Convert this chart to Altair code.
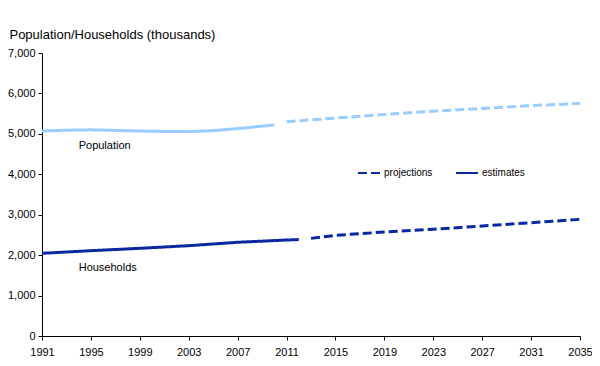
import altair as alt
import pandas as pd

# Population (thousands)
pop_est_years = [1991, 1993, 1995, 1997, 1999, 2001, 2003, 2005, 2007, 2009, 2010]
pop_est_vals = [5070, 5090, 5100, 5085, 5070, 5060, 5055, 5080, 5130, 5190, 5220]
pop_proj_years = [2011, 2015, 2019, 2023, 2027, 2031, 2035]
pop_proj_vals = [5300, 5390, 5480, 5560, 5630, 5700, 5750]

# Households (thousands)
hh_est_years = [1991, 1995, 1999, 2003, 2007, 2011, 2012]
hh_est_vals = [2045, 2110, 2169, 2234, 2318, 2374, 2385]
hh_proj_years = [2013, 2015, 2019, 2023, 2027, 2031, 2035]
hh_proj_vals = [2415, 2490, 2572, 2639, 2721, 2802, 2886]

series_names = ["Population", "Households"]
series_colors = ["#99ccff", "#0a28a0"]
type_names = ["projections", "estimates"]

label_years = [1994, 1994]
label_vals = [4700, 1680]

rows = []
for yrs, vals, s, t in [
    (pop_est_years, pop_est_vals, "Population", "estimates"),
    (pop_proj_years, pop_proj_vals, "Population", "projections"),
    (hh_est_years, hh_est_vals, "Households", "estimates"),
    (hh_proj_years, hh_proj_vals, "Households", "projections"),
]:
    for y, v in zip(yrs, vals):
        rows.append({"year": y, "value": v, "series": s, "type": t})
df = pd.DataFrame(rows)

labels_df = pd.DataFrame({"year": label_years, "value": label_vals, "text": series_names})

all_years = list(range(1991, 2036))

x_scale = alt.Scale(domain=[1991, 2035], nice=False, zero=False)
y_scale = alt.Scale(domain=[0, 7000], nice=False)

lines = alt.Chart(df).mark_line(strokeWidth=3).encode(
    x=alt.X("year:Q", scale=x_scale, axis=alt.Axis(
        values=all_years, title=None, grid=False, tickSize=4, labelPadding=6,
        labelExpr="(datum.value - 1991) % 4 == 0 ? datum.value : ''",
        labelFlush=False, labelOverlap=False, domainColor="black", tickColor="black",
        labelColor="black", labelFontSize=11, labelFont="Liberation Sans")),
    y=alt.Y("value:Q", scale=y_scale, axis=alt.Axis(
        values=[0, 1000, 2000, 3000, 4000, 5000, 6000, 7000], format=",.0f", title=None,
        grid=False, tickSize=4, labelPadding=3, domainColor="black", tickColor="black",
        labelColor="black", labelFontSize=11, labelFont="Liberation Sans")),
    color=alt.Color("series:N", scale=alt.Scale(domain=series_names, range=series_colors), legend=None),
    strokeDash=alt.StrokeDash("type:N", scale=alt.Scale(domain=type_names, range=[[9, 4], [1, 0]]),
        legend=alt.Legend(orient="none", legendX=315, legendY=108, direction="horizontal",
                          title=None, symbolType="stroke", symbolSize=484, symbolStrokeWidth=2,
                          symbolStrokeColor="#0a28a0", labelFontSize=10, labelFont="Liberation Sans",
                          labelColor="black", columnPadding=19, labelOffset=3)),
)

texts = alt.Chart(labels_df).mark_text(align="left", baseline="middle", fontSize=11,
                                      font="Liberation Sans", color="black").encode(
    x=alt.X("year:Q", scale=x_scale),
    y=alt.Y("value:Q", scale=y_scale),
    text="text:N",
)

chart = alt.layer(lines, texts).properties(
    width=538, height=283,
    title=alt.Title("Population/Households (thousands)", anchor="start", frame="bounds",
                    dx=2, offset=5,
                    fontSize=13, fontWeight="normal", font="Liberation Sans", color="black"),
    autosize=alt.AutoSizeParams(type="none"),
    padding={"left": 34, "top": 45, "right": 12, "bottom": 22},
).configure_view(stroke=None)

chart.save("out.html", embed_options={"renderer": "svg", "actions": False})
